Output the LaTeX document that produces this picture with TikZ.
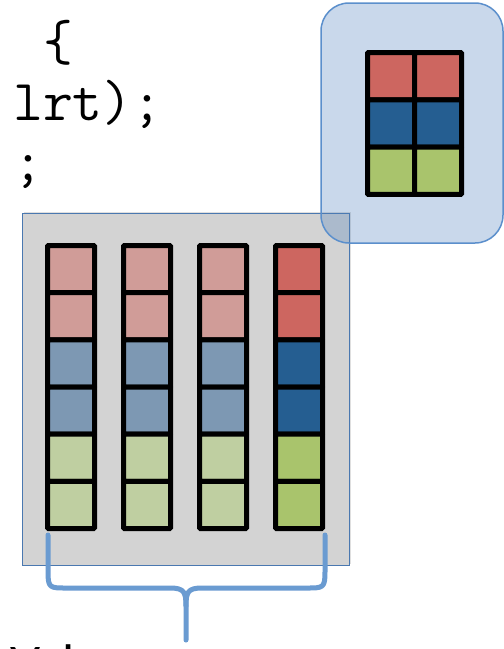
\documentclass[tikz,border=0pt]{standalone}
\usepackage{fontspec}
\newfontfamily\labelfont{Carlito}
\usetikzlibrary{shadows}
\definecolor{redhi}{HTML}{CD6660}
\definecolor{bluehi}{HTML}{255E91}
\definecolor{greenhi}{HTML}{A9C46C}
\definecolor{redlo}{HTML}{D09C98}
\definecolor{bluelo}{HTML}{7D98B3}
\definecolor{greenlo}{HTML}{BFCFA1}
\definecolor{panelgray}{HTML}{D3D3D3}
\definecolor{paneledge}{HTML}{4A78B0}
\definecolor{bubblefill}{HTML}{4F81BD}
\definecolor{bubbleedge}{HTML}{5B8FCC}
\definecolor{bracecol}{HTML}{6A9BD1}
\tikzset{
  cell/.style={draw=black, line width=5pt, rounded corners=1pt},
  codeline/.style={anchor=base west, inner sep=0pt, font=\ttfamily\fontsize{58}{60}\selectfont},
  panel/.style={fill=panelgray, draw=paneledge, line width=1.2pt,
    drop shadow={opacity=0.25, shadow xshift=1.5pt, shadow yshift=1.5pt}},
  bubble/.style={fill=bubblefill, fill opacity=0.3, draw=bubbleedge, draw opacity=1,
    line width=1.5pt, rounded corners=28pt},
  bracket/.style={draw=bracecol, line width=5pt, line cap=round, line join=round}
}
% one stacked column of six cells, top-left outer corner at (#1,#2)
\newcommand{\stackcol}[3]{%
  \foreach \c [count=\k from 0] in {#3}{
    \filldraw[cell, fill=\c] ({#1+2.5},{#2+2.5+\k*47.17}) rectangle ({#1+49.5},{#2+2.5+(\k+1)*47.17});
  }}
\begin{document}
\begin{tikzpicture}[x=1pt,y=-1pt]
\clip (0,0) rectangle (504,649);
\fill[white] (0,0) rectangle (504,649);

% code fragments
\node[codeline] (l1) at (43,60) {\{};
\node[codeline] (l2) at (13,120) {lrt);};
\node[codeline] (l3) at (13,180) {;};

% gray panel with four columns
\node[panel, minimum width=327pt, minimum height=352pt, inner sep=0pt, anchor=north west] (panel) at (22,213) {};

% rounded bubble
\draw[bubble] (321,3) rectangle (503,243);
\coordinate (bub) at (412,123);

% columns
\stackcol{45}{243}{redlo,redlo,bluelo,bluelo,greenlo,greenlo}
\stackcol{121}{243}{redlo,redlo,bluelo,bluelo,greenlo,greenlo}
\stackcol{197}{243}{redlo,redlo,bluelo,bluelo,greenlo,greenlo}
\stackcol{273}{243}{redhi,redhi,bluehi,bluehi,greenhi,greenhi}

% small 2x3 grid in the bubble
\foreach \c [count=\r from 0] in {redhi,bluehi,greenhi}{
  \foreach \j in {0,1}{
    \filldraw[cell, fill=\c] ({367.5+\j*47},{52.5+\r*47.33}) rectangle ({367.5+(\j+1)*47},{52.5+(\r+1)*47.33});
  }
}

% curly bracket under the columns
\coordinate (bl) at (48,535);
\coordinate (br) at (325,535);
\coordinate (tip) at (186,640);
\draw[bracket] (bl) -- (48,572) .. controls (48,588) and (50,588) .. (66,588)
  -- (170,588) .. controls (184,588) and (186,592) .. (186,606) -- (tip);
\draw[bracket] (br) -- (325,572) .. controls (325,588) and (323,588) .. (307,588)
  -- (202,588) .. controls (188,588) and (186,592) .. (186,606);

% label below
\node[anchor=base west, inner sep=0pt, font=\labelfont\fontsize{53}{60}\selectfont] (lab) at (10,681) {Val};
\end{tikzpicture}
\end{document}
